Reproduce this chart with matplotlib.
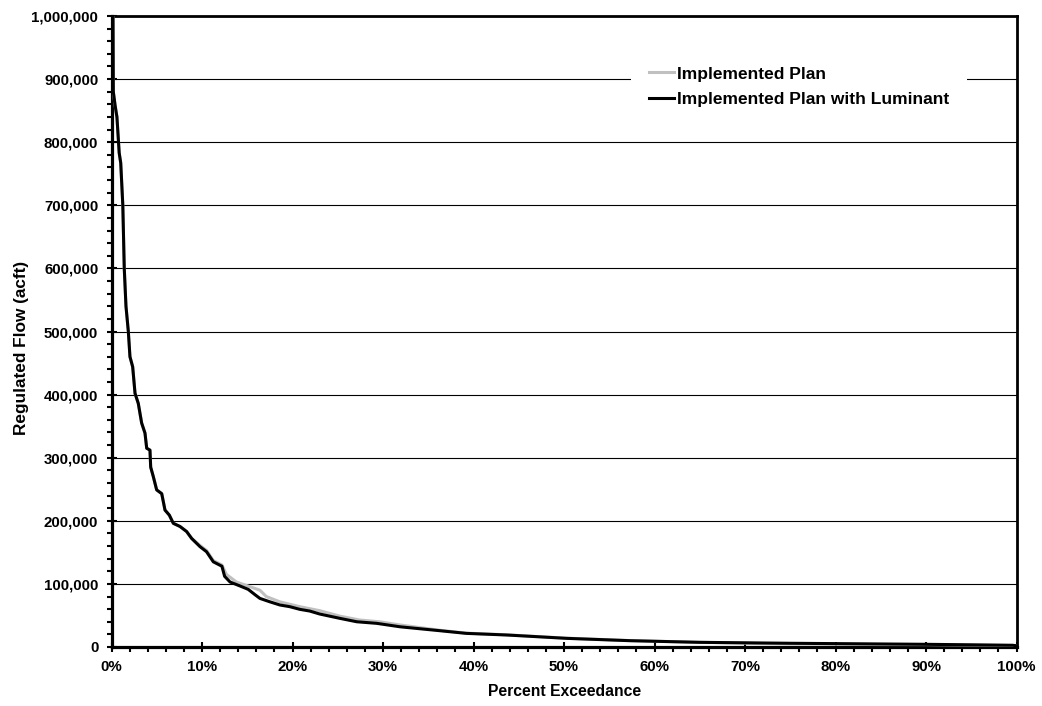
import matplotlib
matplotlib.use("Agg")
import matplotlib.pyplot as plt
from matplotlib.ticker import FuncFormatter, MultipleLocator
import numpy as np

# ---- data ----
series_names = ["Implemented Plan", "Implemented Plan with Luminant"]

lum_pct = [0.05, 0.2, 0.4, 0.6, 0.85, 1.02, 1.25, 1.41, 1.6, 1.86, 2.04, 2.34, 2.6,
           2.96, 3.33, 3.7, 3.89, 4.25, 4.33, 4.62, 4.99, 5.55, 5.91, 6.39, 6.83,
           7.57, 8.3, 8.86, 9.78, 10.5, 11.25, 12.2, 12.5, 13.1, 14.2, 15.1, 15.9,
           16.4, 17.5, 18.6, 19.7, 20.8, 21.9, 23.0, 25.2, 27.1, 29.3, 31.9, 36.3,
           39.2, 43.7, 50.3, 57.3, 65.0, 75.0, 89.7, 99.6, 100.0]
lum_flow = [1400000, 880000, 858000, 840000, 783000, 767000, 700000, 600000, 540000,
            500000, 460000, 444000, 402000, 386000, 355000, 339000, 315000, 312000,
            285000, 270000, 249000, 243000, 217000, 209000, 196000, 191000, 183000,
            172000, 159000, 151000, 135000, 128000, 112000, 103000, 96700, 91400,
            82400, 77000, 71600, 66600, 63900, 59700, 57000, 52300, 45500, 40000,
            37500, 32000, 25800, 21600, 19000, 13700, 10000, 7400, 5900, 4300, 2700,
            2000]

plan_pct = [0.05, 0.2, 0.4, 0.6, 0.85, 1.02, 1.25, 1.41, 1.6, 1.86, 2.04, 2.34, 2.6,
            2.96, 3.33, 3.7, 3.89, 4.25, 4.33, 4.62, 4.99, 5.55, 5.91, 6.39, 6.83,
            7.57, 8.3, 8.86, 9.78, 10.5, 11.25, 12.2, 12.7, 13.8, 15.3, 16.4, 17.1,
            18.6, 20.8, 23.0, 25.2, 27.4, 29.6, 31.9, 36.3, 39.2, 43.7, 50.3, 57.3,
            65.0, 70.0, 75.0, 85.0, 89.7, 99.6, 100.0]
plan_flow = [1400000, 880000, 858000, 840000, 783000, 767000, 700000, 600000, 540000,
             500000, 460000, 444000, 402000, 386000, 355000, 339000, 315000, 312000,
             285000, 270000, 249000, 243000, 217000, 209000, 196000, 191000, 183000,
             172000, 161000, 153000, 137000, 130000, 115000, 103000, 95600, 90000,
             80000, 71600, 63900, 57600, 49000, 42800, 40000, 34900, 26500, 22000,
             19300, 14000, 10200, 7400, 6000, 4600, 3900, 3800, 2500, 2000]

x_ticks = [0, 10, 20, 30, 40, 50, 60, 70, 80, 90, 100]
y_ticks = [0, 100000, 200000, 300000, 400000, 500000, 600000, 700000, 800000,
           900000, 1000000]

FAM = ['Liberation Sans', 'DejaVu Sans']
plt.rcParams['font.family'] = FAM

# ---- figure ----
W, H = 1042, 706
fig = plt.figure(figsize=(W / 100, H / 100), dpi=100)
L, R, T, B = 111.5, 1016.5, 16, 647
ax = fig.add_axes([L / W, 1 - B / H, (R - L) / W, (B - T) / H])

ax.plot(plan_pct, plan_flow, color="#c0c0c0", lw=2.2, label=series_names[0],
        solid_joinstyle="round", zorder=3)
ax.plot(lum_pct, lum_flow, color="black", lw=2.2, label=series_names[1],
        solid_joinstyle="round", zorder=4)

ax.set_xlim(0, 100)
ax.set_ylim(0, 1000000)
ax.set_xticks(x_ticks)
ax.set_yticks(y_ticks)
ax.xaxis.set_minor_locator(MultipleLocator(2))
ax.yaxis.set_minor_locator(MultipleLocator(20000))
ax.xaxis.set_major_formatter(FuncFormatter(lambda v, p: f"{int(round(v))}%"))
ax.yaxis.set_major_formatter(FuncFormatter(lambda v, p: f"{int(round(v)):,}"))

ax.yaxis.grid(True, which="major", color="black", lw=0.8, zorder=1)
ax.set_axisbelow(True)

for s in ax.spines.values():
    s.set_linewidth(2.0)
    s.set_color("black")
ax.spines["left"].set_linewidth(2.3)
ax.spines["bottom"].set_linewidth(2.3)

ax.tick_params(which="major", direction="inout", length=7, width=1.5,
               labelsize=10.8, pad=6)
ax.tick_params(which="minor", direction="out", length=3.5, width=1.5)
for lab in ax.get_xticklabels() + ax.get_yticklabels():
    lab.set_fontweight("bold")
    lab.set_family(FAM)

ax.set_xlabel("Percent Exceedance", fontsize=11.3, fontweight="bold", family=FAM)
ax.set_ylabel("Regulated Flow (acft)", fontsize=12.4, fontweight="bold", family=FAM)
ax.xaxis.set_label_coords(0.501, -0.059)
ax.yaxis.set_label_coords(-0.091, 0.474)

leg = ax.legend(loc="upper right",
                bbox_to_anchor=((967 - L) / (R - L), 1 - (49 - T) / (B - T)),
                frameon=True, fancybox=False, facecolor="white", edgecolor="none",
                framealpha=1.0, handlelength=1.45, handletextpad=0.2,
                borderpad=1.0, labelspacing=0.58, borderaxespad=0,
                prop={"family": FAM, "weight": "bold", "size": 12.5})
leg.set_zorder(5)

fig.savefig("out.png", dpi=100)
